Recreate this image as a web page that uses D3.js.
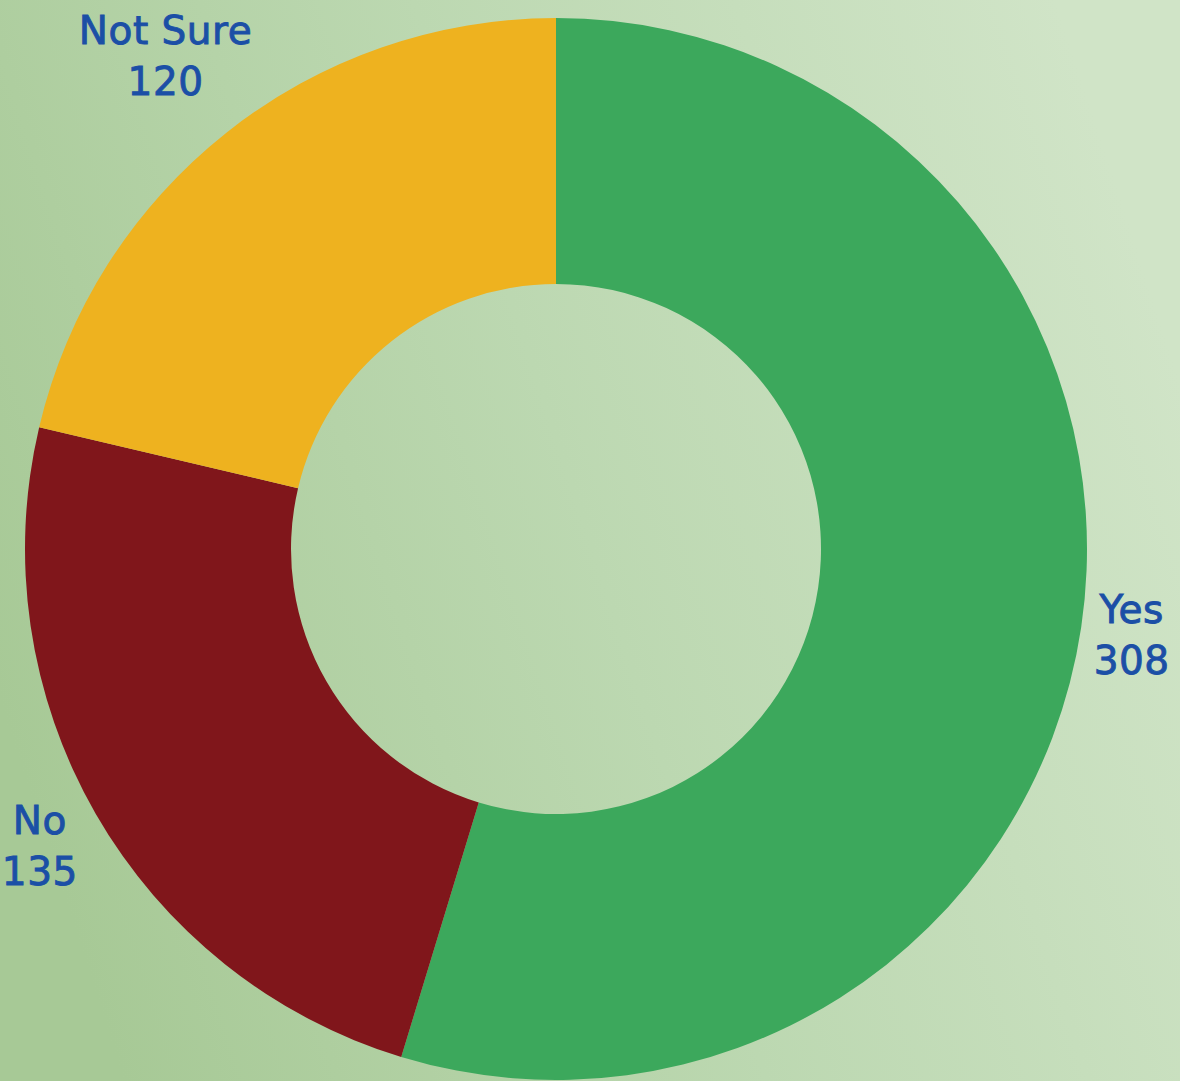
<!DOCTYPE html>
<html>
<head>
<meta charset="utf-8">
<script src="https://cdn.jsdelivr.net/npm/d3@7"></script>
<style>
  html, body { margin: 0; padding: 0; overflow: hidden; }
  svg { display: block; }
</style>
</head>
<body>
<svg id="chart" width="1180" height="1081"></svg>
<script>
// Survey answers
const categories = ["Yes", "No", "Not Sure"];
const counts = [308, 135, 120];
const colors = ["#3ca85c", "#80161b", "#eeb21f"];

const width = 1180, height = 1081;
const cx = 556, cy = 549;
const outerR = 531, innerR = 265;
const labelGap = 8;
const fontSize = 39, lineHeight = 51;

const svg = d3.select("#chart");

// soft green backdrop
const defs = svg.append("defs");
const grad = defs.append("linearGradient")
  .attr("id", "bg").attr("x1", "0").attr("y1", "0.65").attr("x2", "1").attr("y2", "0.35");
grad.append("stop").attr("offset", "0").attr("stop-color", "#a7c996");
grad.append("stop").attr("offset", "0.5").attr("stop-color", "#bcd8b1");
grad.append("stop").attr("offset", "1").attr("stop-color", "#d0e4c7");
svg.append("rect").attr("width", width).attr("height", height).attr("fill", "url(#bg)");

const data = categories.map((c, i) => ({ name: c, value: counts[i], color: colors[i] }));

const pie = d3.pie().value(d => d.value).sort(null);
const arc = d3.arc().innerRadius(innerR).outerRadius(outerR);
const arcs = pie(data);

const g = svg.append("g").attr("transform", `translate(${cx},${cy})`);

g.selectAll("path.slice")
  .data(arcs)
  .join("path")
  .attr("class", "slice")
  .attr("d", arc)
  .attr("fill", d => d.data.color);

// outside labels: push each two-line block out along the slice's middle angle
// until its nearest corner clears the ring
const labels = g.selectAll("text.label")
  .data(arcs)
  .join("text")
  .attr("class", "label")
  .attr("text-anchor", "middle")
  .attr("font-family", "'DejaVu Sans', sans-serif")
  .attr("font-size", fontSize)
  .attr("letter-spacing", 0.5)
  .attr("fill", "#1b4fa6")
  .attr("stroke", "#1b4fa6")
  .attr("stroke-width", 0.9);

labels.append("tspan").attr("x", 0).attr("dy", 0).text(d => d.data.name);
labels.append("tspan").attr("x", 0).attr("dy", lineHeight).text(d => d.data.value);

labels.each(function(d) {
  const bb = this.getBBox();
  const mid = (d.startAngle + d.endAngle) / 2;
  const ux = Math.sin(mid), uy = -Math.cos(mid);
  const w = bb.width, h = bb.height;
  const target = outerR + labelGap;
  const nearestDist = t => {
    const bx = t * ux, by = t * uy;
    const nx = bx - Math.sign(ux) * w / 2;
    const ny = by - Math.sign(uy) * h / 2;
    return Math.hypot(nx, ny);
  };
  let lo = 0, hi = 2000;
  for (let k = 0; k < 60; k++) {
    const m = (lo + hi) / 2;
    if (nearestDist(m) < target) lo = m; else hi = m;
  }
  const t = hi;
  // box centre -> text origin
  const boxCx = t * ux, boxCy = t * uy;
  const dx = boxCx - (bb.x + w / 2);
  const dy = boxCy - (bb.y + h / 2);
  d3.select(this).attr("transform", `translate(${dx},${dy})`);
});
</script>
</body>
</html>
